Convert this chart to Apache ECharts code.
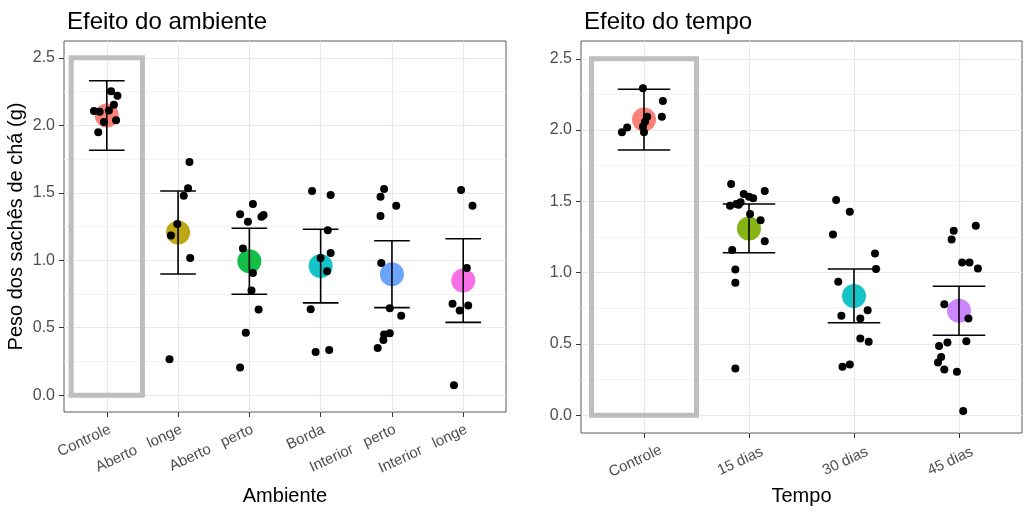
<!DOCTYPE html>
<html>
<head>
<meta charset="utf-8">
<script src="https://cdn.jsdelivr.net/npm/echarts@6/dist/echarts.min.js"></script>
<style>
  html, body { margin: 0; padding: 0; background: #ffffff; }
  #chart { width: 1025px; height: 518px; }
</style>
</head>
<body>
<div id="chart"></div>
<script>
// ---------- Efeito do ambiente ----------
const ambCategories = ['Controle', 'Aberto   longe', 'Aberto   perto', 'Borda', 'Interior   perto', 'Interior   longe'];
const ambColors = ['#F8766D', '#B79F00', '#00BA38', '#00BFC4', '#619CFF', '#F564E3'];
const ambMean  = [2.072, 1.205, 0.992, 0.957, 0.896, 0.849];
const ambLower = [1.815, 0.898, 0.748, 0.684, 0.649, 0.539];
const ambUpper = [2.330, 1.513, 1.237, 1.230, 1.144, 1.159];
// individual weights per group and the horizontal jitter used for each dot
const ambObs = [
  [2.253, 2.220, 2.153, 2.106, 2.100, 2.110, 2.024, 2.037, 1.948],
  [1.729, 1.533, 1.478, 1.269, 1.183, 1.016, 0.266],
  [1.417, 1.341, 1.286, 1.323, 1.336, 1.087, 0.905, 0.775, 0.635, 0.463, 0.204],
  [1.513, 1.483, 1.223, 1.053, 1.016, 0.918, 0.637, 0.320, 0.335],
  [1.528, 1.471, 1.404, 1.328, 0.979, 0.644, 0.588, 0.458, 0.450, 0.408, 0.349],
  [1.520, 1.404, 0.942, 0.677, 0.627, 0.664, 0.074]
];
const ambJitter = [
  [0.06, 0.15, 0.10, -0.18, -0.10, 0.03, -0.04, 0.13, -0.12],
  [0.16, 0.14, 0.08, -0.01, -0.10, 0.17, -0.12],
  [0.05, -0.13, -0.02, 0.17, 0.20, -0.09, 0.05, 0.03, 0.13, -0.05, -0.13],
  [-0.12, 0.14, 0.10, 0.14, 0.00, 0.09, -0.14, -0.07, 0.12],
  [-0.11, -0.16, 0.06, -0.16, -0.15, -0.03, 0.13, -0.03, -0.11, -0.12, -0.20],
  [-0.03, 0.13, 0.05, -0.15, -0.05, 0.07, -0.13]
];

// ---------- Efeito do tempo ----------
const tempoCategories = ['Controle', '15 dias', '30 dias', '45 dias'];
const tempoColors = ['#F8766D', '#7CAE00', '#00BFC4', '#C77CFF'];
const tempoMean  = [2.075, 1.310, 0.836, 0.733];
const tempoLower = [1.860, 1.139, 0.648, 0.561];
const tempoUpper = [2.286, 1.481, 1.025, 0.905];
const tempoObs = [
  [2.293, 2.204, 2.094, 2.094, 2.058, 2.023, 2.019, 1.984, 1.984],
  [1.621, 1.572, 1.551, 1.532, 1.521, 1.493, 1.481, 1.469, 1.476, 1.411, 1.368, 1.221, 1.158, 1.022, 0.929, 0.327],
  [1.509, 1.427, 1.268, 1.135, 1.025, 0.936, 0.737, 0.697, 0.678, 0.538, 0.515, 0.356, 0.339],
  [1.329, 1.293, 1.233, 1.071, 1.071, 1.029, 0.779, 0.678, 0.519, 0.510, 0.486, 0.409, 0.370, 0.321, 0.304, 0.030]
];
const tempoJitter = [
  [-0.01, 0.18, 0.17, 0.03, 0.01, -0.01, -0.16, -0.21, 0.00],
  [-0.17, 0.15, -0.05, 0.00, 0.04, -0.08, -0.12, -0.18, -0.10, 0.01, 0.11, 0.15, -0.16, -0.13, -0.13, -0.13],
  [-0.17, -0.04, -0.20, 0.20, 0.21, -0.15, 0.13, -0.12, 0.06, 0.06, 0.14, -0.04, -0.11],
  [0.16, -0.05, -0.07, 0.03, 0.10, 0.18, -0.14, 0.09, 0.07, -0.11, -0.19, -0.17, -0.20, -0.14, -0.02, 0.04]
];

// shared y scale
const yMajorTicks = [0, 0.5, 1.0, 1.5, 2.0, 2.5];
const yMinorTicks = [0.25, 0.75, 1.25, 1.75, 2.25];
const controlBoxY = [0, 2.5];      // vertical extent of the highlight around "Controle"
const controlBoxHalfWidth = 0.5;

const FONT = '"Liberation Sans", Arial, Helvetica, sans-serif';
const chart = echarts.init(document.getElementById('chart'), null, { renderer: 'canvas' });

function indices(n) { return Array.from({ length: n }, (_, i) => i); }

function xAxisFor(gridIndex, cats, name, nameGap, labelOpts) {
  const ticks = indices(cats.length);
  return {
    type: 'value', gridIndex, position: 'bottom',
    min: -0.6, max: cats.length - 0.4,
    name, nameLocation: 'middle', nameGap,
    nameTextStyle: { color: '#000', fontSize: 20, fontFamily: FONT },
    axisLine: { show: false, onZero: false },
    axisTick: { show: true, length: 5, lineStyle: { color: '#333', width: 1 }, customValues: ticks },
    axisLabel: Object.assign({
      customValues: ticks,
      formatter: v => cats[Math.round(v)],
      color: '#4d4d4d', fontSize: 15, fontFamily: FONT, rotate: 25
    }, labelOpts),
    splitLine: { show: true, lineStyle: { color: '#e8e8e8', width: 1.1 } }
  };
}

function yMajorAxis(gridIndex, withName) {
  const ax = {
    type: 'value', gridIndex, position: 'left', min: -0.125, max: 2.625,
    axisLine: { show: false, onZero: false },
    axisTick: { show: true, length: 5, lineStyle: { color: '#333', width: 1 }, customValues: yMajorTicks },
    axisLabel: { customValues: yMajorTicks, formatter: v => v.toFixed(1), color: '#4d4d4d', fontSize: 16, fontFamily: FONT, margin: 9 },
    splitLine: { show: true, lineStyle: { color: '#e8e8e8', width: 1.1 } }
  };
  if (withName) {
    Object.assign(ax, {
      name: 'Peso dos sachês de chá (g)', nameLocation: 'middle', nameGap: 38,
      nameTextStyle: { color: '#000', fontSize: 20, fontFamily: FONT }
    });
  }
  return ax;
}

function yMinorAxis(gridIndex) {
  return {
    type: 'value', gridIndex, min: -0.125, max: 2.625, position: 'left',
    axisLine: { show: false, onZero: false },
    axisTick: { show: false, customValues: yMinorTicks },
    axisLabel: { show: false, customValues: yMinorTicks },
    splitLine: { show: true, lineStyle: { color: '#f0f0f0', width: 0.8 } }
  };
}

function controlBoxSeries(xi, yi) {
  return {
    type: 'custom', xAxisIndex: xi, yAxisIndex: yi, z: 1, silent: true,
    data: [[0, controlBoxY[0], controlBoxY[1]]],
    renderItem(params, api) {
      const c = api.value(0);
      const tl = api.coord([c - controlBoxHalfWidth, api.value(2)]);
      const br = api.coord([c + controlBoxHalfWidth, api.value(1)]);
      return {
        type: 'rect',
        shape: { x: tl[0], y: tl[1], width: br[0] - tl[0], height: br[1] - tl[1] },
        style: { fill: 'none', stroke: '#bebebe', lineWidth: 5 }
      };
    }
  };
}

function meanSeries(xi, yi, means, colors) {
  return {
    type: 'scatter', xAxisIndex: xi, yAxisIndex: yi, z: 2, silent: true,
    symbolSize: 24,
    data: means.map((m, i) => ({ value: [i, m], itemStyle: { color: colors[i], opacity: 0.92 } }))
  };
}

function errorBarSeries(xi, yi, lower, upper) {
  return {
    type: 'custom', xAxisIndex: xi, yAxisIndex: yi, z: 3, silent: true,
    data: lower.map((l, i) => [i, l, upper[i]]),
    encode: { x: 0, y: [1, 2] },
    renderItem(params, api) {
      const x = api.value(0), lo = api.value(1), hi = api.value(2);
      const top = api.coord([x, hi]), bot = api.coord([x, lo]);
      const tl = api.coord([x - 0.25, hi]), tr = api.coord([x + 0.25, hi]);
      const bl = api.coord([x - 0.25, lo]), brr = api.coord([x + 0.25, lo]);
      const style = { stroke: '#000', lineWidth: 1.6 };
      return {
        type: 'group',
        children: [
          { type: 'line', shape: { x1: top[0], y1: top[1], x2: bot[0], y2: bot[1] }, style },
          { type: 'line', shape: { x1: tl[0], y1: tl[1], x2: tr[0], y2: tr[1] }, style },
          { type: 'line', shape: { x1: bl[0], y1: bl[1], x2: brr[0], y2: brr[1] }, style }
        ]
      };
    }
  };
}

function pointSeries(xi, yi, obs, jitter) {
  const data = [];
  obs.forEach((grp, i) => grp.forEach((v, j) => data.push([i + jitter[i][j], v])));
  return {
    type: 'scatter', xAxisIndex: xi, yAxisIndex: yi, z: 4, silent: true,
    symbolSize: 8, itemStyle: { color: '#000', opacity: 1 },
    data
  };
}

const option = {
  animation: false,
  backgroundColor: '#ffffff',
  title: [
    { text: 'Efeito do ambiente', left: 62, top: 5, textStyle: { color: '#000', fontSize: 24, fontWeight: 'normal', fontFamily: FONT } },
    { text: 'Efeito do tempo', left: 579, top: 5, textStyle: { color: '#000', fontSize: 24, fontWeight: 'normal', fontFamily: FONT } }
  ],
  grid: [
    { left: 64, top: 41, width: 442, height: 371, show: true, borderColor: '#5a5a5a', borderWidth: 1, backgroundColor: '#fff' },
    { left: 581, top: 41, width: 441, height: 392, show: true, borderColor: '#5a5a5a', borderWidth: 1, backgroundColor: '#fff' }
  ],
  xAxis: [
    xAxisFor(0, ambCategories, 'Ambiente', 74, { align: 'right', verticalAlign: 'top', margin: 10 }),
    xAxisFor(1, tempoCategories, 'Tempo', 53, { align: 'center', verticalAlign: 'top', margin: 16, padding: [0, 26, 0, 0] })
  ],
  yAxis: [
    yMajorAxis(0, true),
    yMinorAxis(0),
    yMajorAxis(1, false),
    yMinorAxis(1)
  ],
  series: [
    controlBoxSeries(0, 0),
    meanSeries(0, 0, ambMean, ambColors),
    errorBarSeries(0, 0, ambLower, ambUpper),
    pointSeries(0, 0, ambObs, ambJitter),
    controlBoxSeries(1, 2),
    meanSeries(1, 2, tempoMean, tempoColors),
    errorBarSeries(1, 2, tempoLower, tempoUpper),
    pointSeries(1, 2, tempoObs, tempoJitter)
  ]
};

chart.setOption(option);
</script>
</body>
</html>
